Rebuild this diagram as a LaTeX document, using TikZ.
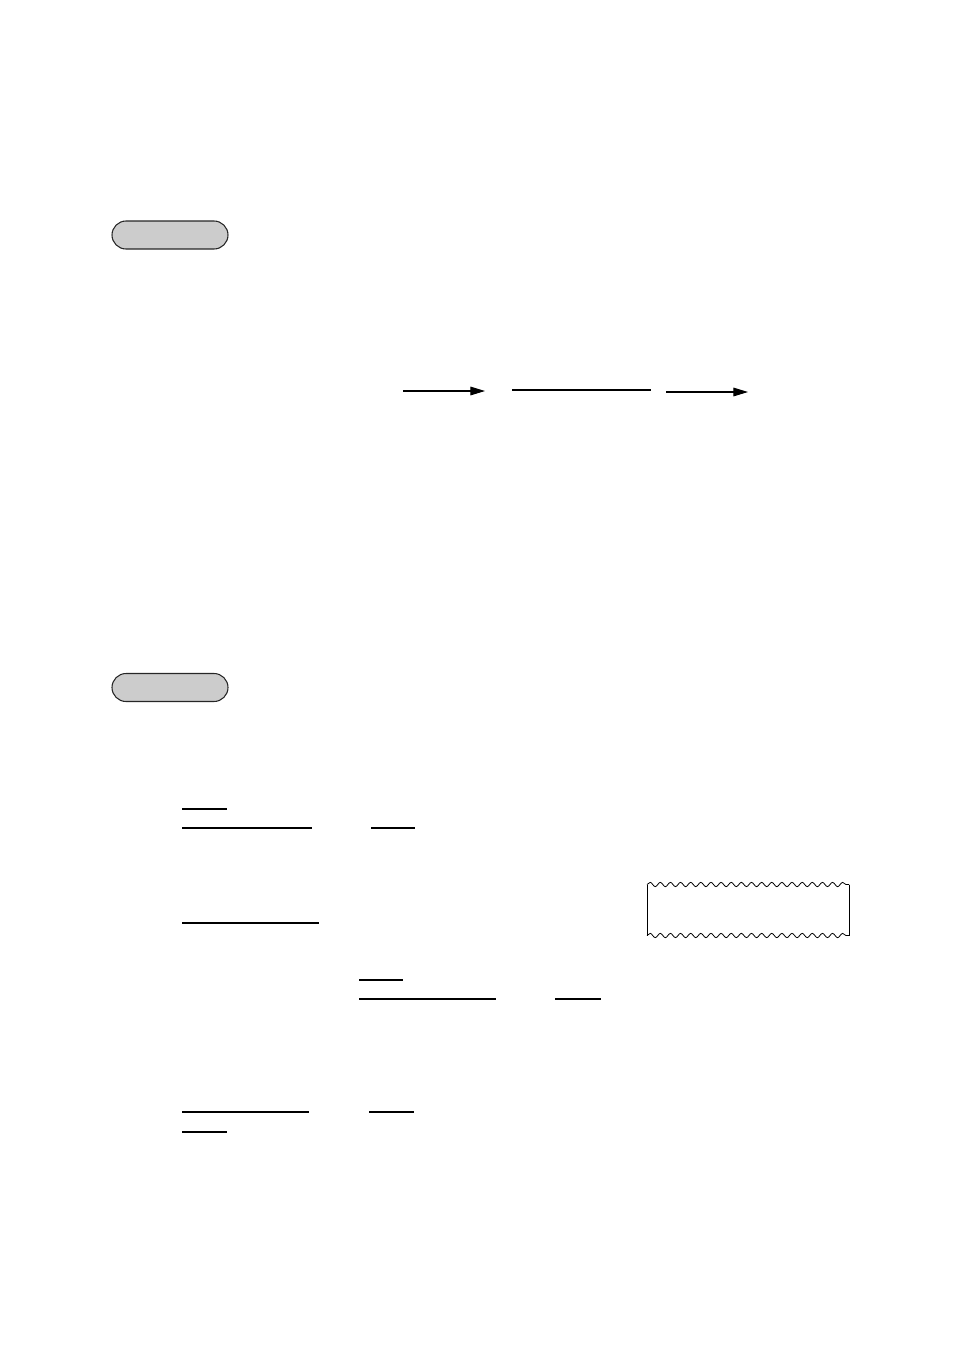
\documentclass[tikz,border=0pt]{standalone}
\usetikzlibrary{arrows.meta,shapes.misc,decorations.pathmorphing}

\tikzset{
    pill/.style={rounded rectangle, draw=black!85, fill=black!20, line width=0.8pt,
        minimum width=87pt, minimum height=21pt, inner sep=0pt},
    uline/.style={line width=1.5pt},
    tip/.style={-{Triangle[length=11pt,width=6.5pt]}, line width=0.8pt},
    wave/.style={decorate, decoration={snake, segment length=7.6pt, amplitude=1.6pt}}
}

\newcommand{\Rule}[3]{
    \draw[uline] (#1,#3) -- (#2,#3);
}

\begin{document}
\begin{tikzpicture}[x=0.75pt, y=-0.75pt]
    \useasboundingbox (0,0) rectangle (954,1350);

    % pill labels
    \node[pill] (pillA) at (170,235) {};
    \node[pill] (pillB) at (170,687.5) {};

    % arrow row
    \draw[tip] (403,391) -- (485,391);
    \draw[line width=0.8pt] (512,390) -- (651,390);
    \draw[tip] (666,392) -- (748,392);

    % underlines, first group
    \Rule{182}{227}{809}
    \Rule{182}{312}{828}
    \Rule{371}{415}{828}
    \Rule{182}{319}{923}

    % torn strip
    \draw[line width=0.6pt] (647,884.5) -- (647,935.5);
    \draw[line width=0.6pt] (849,884.5) -- (849,935.5);
    \draw[wave, line width=0.6pt] (647,884.5) -- (849,884.5);
    \draw[wave, line width=0.6pt] (647,935.5) -- (849,935.5);

    % underlines, second group
    \Rule{359}{403}{980}
    \Rule{359}{496}{999}
    \Rule{555}{601}{999}

    % underlines, third group
    \Rule{182}{309}{1112}
    \Rule{369}{414}{1112}
    \Rule{182}{227}{1132}
\end{tikzpicture}
\end{document}
